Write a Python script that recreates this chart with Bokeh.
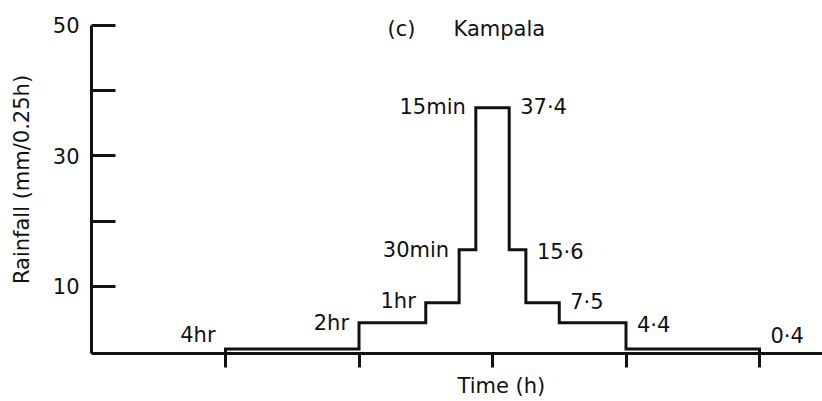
from bokeh.plotting import figure
from bokeh.models import Range1d, FixedTicker, Label, ColumnDataSource, Title
from bokeh.embed import file_html
from bokeh.resources import INLINE
from bokeh.core.properties import value

# Maximum rainfall intensity for nested durations, centred on the storm peak
durations_h = [4, 2, 1, 0.5, 0.25]
duration_labels = ["4hr", "2hr", "1hr", "30min", "15min"]
rainfall = [0.4, 4.4, 7.5, 15.6, 37.4]          # mm per 0.25 h
value_labels = ["0·4", "4·4", "7·5", "15·6", "37·4"]
peak_time = 2.0                                   # hours
x_ticks = [0, 1, 2, 3, 4]
y_ticks = [10, 20, 30, 40, 50]
y_tick_labels = {10: "10", 20: "", 30: "30", 40: "", 50: "50"}

FONT = "DejaVu Sans"
SIZE = "21px"
INK = "#111111"

# baseline sits a hair below zero so the 0.4 step stays visible above the axis
y_base = -0.3

lefts = [peak_time - d / 2 for d in durations_h]
rights = [peak_time + d / 2 for d in durations_h]

# Build the symmetric stepped hyetograph outline
path_x, path_y = [], []
prev = y_base
for l, v in zip(lefts, rainfall):
    path_x += [l, l]
    path_y += [prev, v]
    prev = v
for i in range(len(rights) - 1, -1, -1):
    lower = rainfall[i - 1] if i > 0 else y_base
    path_x += [rights[i], rights[i]]
    path_y += [rainfall[i], lower]

p = figure(width=822, height=401, output_backend="svg", toolbar_location=None,
           x_range=Range1d(-1.004, 4.472), y_range=Range1d(y_base, 53.06),
           min_border_left=91, min_border_right=0, min_border_top=5,
           min_border_bottom=47)
p.outline_line_color = None
p.xgrid.visible = False
p.ygrid.visible = False
p.background_fill_color = "white"
p.border_fill_color = "white"

# y axis: ticks pointing inwards, every other one labelled
ya = p.yaxis[0]
ya.ticker = FixedTicker(ticks=y_ticks)
ya.major_label_overrides = y_tick_labels
ya.bounds = (y_base, 50)
ya.axis_line_width = 3
ya.axis_line_color = INK
ya.major_tick_in = 24
ya.major_tick_out = 0
ya.major_tick_line_width = 3
ya.major_tick_line_color = INK
ya.minor_tick_line_color = None
ya.major_label_standoff = 12
ya.major_label_text_font = FONT
ya.major_label_text_font_size = SIZE
ya.major_label_text_color = INK
ya.axis_label = "Rainfall (mm/0.25h)"
ya.axis_label_text_font = FONT
ya.axis_label_text_font_size = SIZE
ya.axis_label_text_font_style = "normal"
ya.axis_label_text_color = INK
ya.axis_label_standoff = 16

# x axis: hourly ticks pointing outwards, no numbers
xa = p.xaxis[0]
xa.ticker = FixedTicker(ticks=x_ticks)
xa.major_label_overrides = {t: "" for t in x_ticks}
xa.major_label_text_font_size = "0px"
xa.major_label_standoff = 0
xa.axis_line_width = 3
xa.axis_line_color = INK
xa.major_tick_in = 0
xa.major_tick_out = 14
xa.major_tick_line_width = 3
xa.major_tick_line_color = INK
xa.minor_tick_line_color = None

p.add_layout(Title(text="Time (h)", align="left", offset=366, standoff=8,
                   text_font=FONT, text_font_size=SIZE, text_font_style="normal",
                   text_color=INK), "below")

p.line(path_x, path_y, line_width=3, line_color=INK, line_join="miter")

# Duration labels to the left of each step, values to the right
dur_src = ColumnDataSource(dict(x=lefts, y=rainfall, text=duration_labels,
                                dy=[-14, 0, -2, 0, -1]))
val_src = ColumnDataSource(dict(x=rights, y=rainfall, text=value_labels,
                                dy=[-13, 2, -1, 2, -1]))
p.text(x="x", y="y", text="text", source=dur_src, x_offset=-10, y_offset="dy",
       text_font=value(FONT), text_font_size=value(SIZE), text_color=INK,
       text_align="right", text_baseline="middle")
p.text(x="x", y="y", text="text", source=val_src, x_offset=11, y_offset="dy",
       text_font=value(FONT), text_font_size=value(SIZE), text_color=INK,
       text_align="left", text_baseline="middle")

label_style = dict(text_font=FONT, text_font_size=SIZE, text_color=INK,
                   text_baseline="alphabetic", text_align="left")
p.add_layout(Label(x=1.213, y=49.4, text="(c)", **label_style))
p.add_layout(Label(x=1.708, y=49.4, text="Kampala", **label_style))

open("out.html", "w").write(file_html(p, INLINE))
